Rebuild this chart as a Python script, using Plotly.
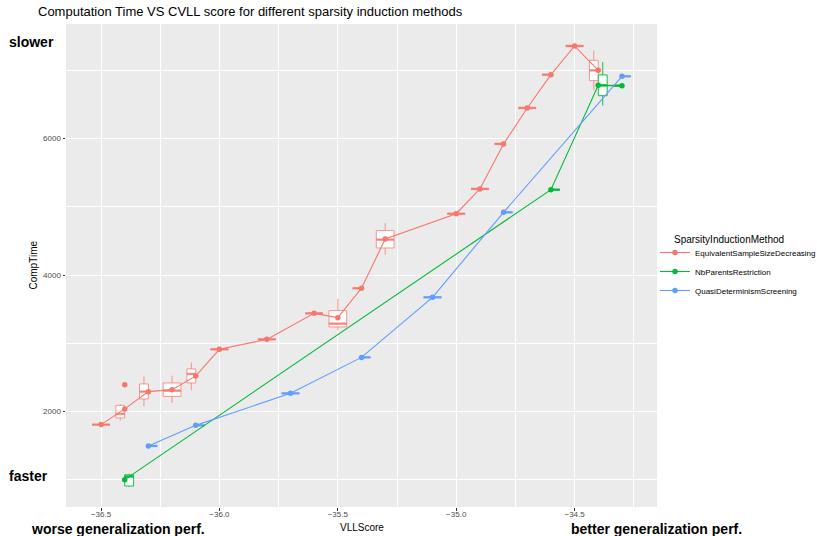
import plotly.graph_objects as go

# ---------------- data ----------------
series_names = ["EquivalentSampleSizeDecreasing", "NbParentsRestriction", "QuasiDeterminismScreening"]
legend_title = "SparsityInductionMethod"

esd_x = [-36.5, -36.4, -36.3, -36.2, -36.1, -36.0, -35.8, -35.6, -35.5, -35.4, -35.3,
         -35.0, -34.9, -34.8, -34.7, -34.6, -34.5, -34.4]
esd_mean = [1810, 2040, 2293, 2322, 2523, 2913, 3059, 3440, 3377, 3807, 4530,
            4900, 5263, 5922, 6449, 6937, 7357, 7000]
esd_median = [1810, 1966, 2293, 2307, 2552, 2913, 3059, 3440, 3289, 3807, 4520,
              4900, 5263, 5922, 6449, 6937, 7357, 7000]
esd_q1 = [1810, 1908, 2186, 2224, 2420, 2913, 3059, 3440, 3241, 3807, 4398,
          4900, 5263, 5922, 6449, 6937, 7357, 6849]
esd_q3 = [1810, 2092, 2406, 2420, 2625, 2913, 3059, 3440, 3480, 3807, 4652,
          4900, 5263, 5922, 6449, 6937, 7357, 7147]
esd_lo = [1810, 1873, 2078, 2127, 2312, 2913, 3059, 3440, 3191, 3807, 4300,
          4900, 5263, 5922, 6449, 6937, 7357, 6703]
esd_hi = [1810, 2105, 2517, 2527, 2722, 2913, 3059, 3440, 3655, 3807, 4764,
          4900, 5263, 5922, 6449, 6937, 7357, 7293]
esd_outlier_x = [-36.4]
esd_outlier_y = [2395]

nbp_x = [-36.4, -34.6, -34.4, -34.3]
nbp_mean = [1004, 5252, 6780, 6776]
nbp_median = [1050, 5252, 6780, 6776]
nbp_q1 = [910, 5252, 6629, 6776]
nbp_q3 = [1075, 5252, 6933, 6776]
nbp_lo = [900, 5252, 6483, 6776]
nbp_hi = [1090, 5252, 7123, 6776]

qds_x = [-36.3, -36.1, -35.7, -35.4, -35.1, -34.8, -34.3]
qds_mean = [1498, 1799, 2268, 2795, 3675, 4920, 6912]
qds_median = [1498, 1799, 2268, 2795, 3675, 4920, 6912]
qds_q1 = [1498, 1799, 2268, 2795, 3675, 4920, 6912]
qds_q3 = [1498, 1799, 2268, 2795, 3675, 4920, 6912]
qds_lo = [1498, 1799, 2268, 2795, 3675, 4920, 6912]
qds_hi = [1498, 1799, 2268, 2795, 3675, 4920, 6912]

x_ticks = [-36.5, -36.0, -35.5, -35.0, -34.5]
y_ticks = [2000, 4000, 6000]

# ---------------- styling ----------------
colors = ["#F8766D", "#00BA38", "#619CFF"]
box_line_colors = ["rgba(248,118,109,0.75)", "rgba(0,186,56,0.9)", "rgba(97,156,255,0.8)"]
FONT = "Liberation Sans, Arial, Helvetica, sans-serif"
BOX_W = 0.075
W, H = 817, 536
ML, MR, MT, MB = 66, 160, 24, 29
PW, PH = W - ML - MR, H - MT - MB

series = [
    (esd_x, esd_mean, esd_median, esd_q1, esd_q3, esd_lo, esd_hi),
    (nbp_x, nbp_mean, nbp_median, nbp_q1, nbp_q3, nbp_lo, nbp_hi),
    (qds_x, qds_mean, qds_median, qds_q1, qds_q3, qds_lo, qds_hi),
]

# dodge: boxes sharing the same x position split the width
occupancy = {}
for si, s in enumerate(series):
    for xv in s[0]:
        occupancy.setdefault(round(xv, 3), []).append(si)

fig = go.Figure()

for si, s in enumerate(series):
    xs, means, meds, q1s, q3s, los, his = s
    med_x, med_y = [], []
    for i, xv in enumerate(xs):
        grp = occupancy[round(xv, 3)]
        n = len(grp)
        k = grp.index(si)
        w = BOX_W / n
        xc = xv + (k - (n - 1) / 2) * w
        fig.add_trace(go.Box(
            x=[xc], q1=[q1s[i]], median=[meds[i]], q3=[q3s[i]],
            lowerfence=[los[i]], upperfence=[his[i]],
            width=w, whiskerwidth=0, boxpoints=False,
            line=dict(color=box_line_colors[si], width=1),
            fillcolor="white", showlegend=False, hoverinfo="skip",
        ))
        med_x += [xc - w / 2, xc + w / 2, None]
        med_y += [meds[i], meds[i], None]
    fig.add_trace(go.Scatter(
        x=med_x, y=med_y, mode="lines",
        line=dict(color=box_line_colors[si], width=2.4),
        showlegend=False, hoverinfo="skip",
    ))

fig.add_trace(go.Scatter(
    x=esd_outlier_x, y=esd_outlier_y, mode="markers",
    marker=dict(color=colors[0], size=5.5), showlegend=False,
))

for si, s in enumerate(series):
    fig.add_trace(go.Scatter(
        x=s[0], y=s[1], mode="lines+markers", name=series_names[si],
        line=dict(color=colors[si], width=1.1),
        marker=dict(color=colors[si], size=5.5),
    ))

axis_common = dict(
    showgrid=True, gridcolor="white", gridwidth=1.1,
    zeroline=False, showline=False,
    ticks="outside", ticklen=2.5, tickcolor="#333333", tickwidth=1,
    tickfont=dict(family=FONT, size=8, color="#4D4D4D"),
)


def px_x(px):
    return (px - ML) / PW


def px_y(py):
    return (H - MB - py) / PH


fig.update_layout(
    width=W, height=H,
    margin=dict(l=ML, r=MR, t=MT, b=MB, autoexpand=False),
    paper_bgcolor="white", plot_bgcolor="#EBEBEB",
    font=dict(family=FONT, color="black"),
    title=dict(text="Computation Time VS CVLL score for different sparsity induction methods",
               x=38 / W, xref="container", xanchor="left",
               y=1 - 11 / H, yref="container", yanchor="middle",
               font=dict(family=FONT, size=13, color="black")),
    xaxis=dict(range=[-36.648, -34.152], tickvals=x_ticks, tickformat=".1f",
               ticklabelstandoff=-3,
               minor=dict(dtick=0.25, tick0=0, showgrid=True, gridcolor="white", gridwidth=0.55, ticks=""),
               **axis_common),
    yaxis=dict(range=[603, 7679], tickvals=y_ticks,
               minor=dict(dtick=1000, tick0=0, showgrid=True, gridcolor="white", gridwidth=0.55, ticks=""),
               **axis_common),
    legend=dict(
        font=dict(family=FONT, size=8, color="black"),
        xref="container", yref="container",
        x=655 / W, xanchor="left", y=1 - 238 / H, yanchor="top",
        bgcolor="rgba(0,0,0,0)", itemwidth=30, tracegroupgap=0,
    ),
    annotations=[
        dict(text=legend_title, x=px_x(672), xref="paper", y=px_y(240), yref="paper",
             xanchor="left", yanchor="middle", showarrow=False,
             font=dict(family=FONT, size=10, color="black")),
        dict(text="VLLScore", x=0.5, xref="paper", y=px_y(527), yref="paper",
             xanchor="center", yanchor="middle", showarrow=False,
             font=dict(family=FONT, size=10, color="black")),
        dict(text="CompTime", x=px_x(33), xref="paper", y=0.5, yref="paper",
             xanchor="center", yanchor="middle", showarrow=False, textangle=-90,
             font=dict(family=FONT, size=10, color="black")),
        dict(text="<b>slower</b>", x=px_x(7), xref="paper", y=px_y(42), yref="paper",
             xanchor="left", yanchor="middle", showarrow=False,
             font=dict(family=FONT, size=14, color="black")),
        dict(text="<b>faster</b>", x=px_x(7), xref="paper", y=px_y(476), yref="paper",
             xanchor="left", yanchor="middle", showarrow=False,
             font=dict(family=FONT, size=14, color="black")),
        dict(text="<b>worse generalization perf.</b>", x=px_x(29), xref="paper", y=px_y(528.5), yref="paper",
             xanchor="left", yanchor="middle", showarrow=False,
             font=dict(family=FONT, size=14, color="black")),
        dict(text="<b>better generalization perf.</b>", x=px_x(569), xref="paper", y=px_y(528.5), yref="paper",
             xanchor="left", yanchor="middle", showarrow=False,
             font=dict(family=FONT, size=14, color="black")),
    ],
)

fig.write_html("out.html", config={"displayModeBar": False},
               post_script="document.body.style.margin='0';")
